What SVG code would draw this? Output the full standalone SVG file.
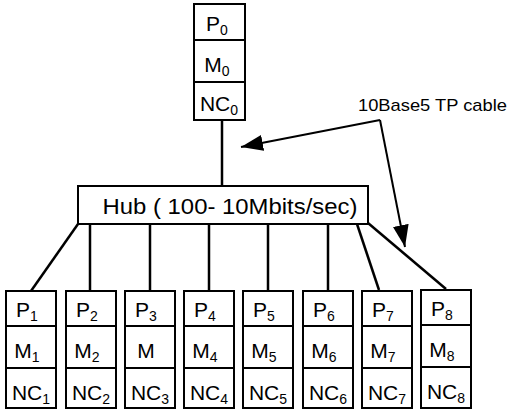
<svg xmlns="http://www.w3.org/2000/svg" width="509" height="410" viewBox="0 0 509 410">
<style>
.box{fill:#fff;stroke:#000;stroke-width:2}
.div{stroke:#000;stroke-width:2}
.t{font-family:"Liberation Sans",Arial,sans-serif;font-size:21px;fill:#000;text-anchor:middle}
.s{font-size:14px}
.con{stroke:#000;stroke-width:2.5;fill:none}
.arr{stroke:#000;stroke-width:2;fill:none}
</style>
<defs>
<marker id="ah" viewBox="0 0 22 16" refX="22" refY="8" markerWidth="22" markerHeight="16" markerUnits="userSpaceOnUse" orient="auto">
<path d="M0,0 L22,8 L0,16 z" fill="#000"/>
</marker>
</defs>
<g id="connectors">
<line class="con" x1="222" y1="120" x2="222" y2="186"/>
<line class="con" x1="78" y1="224" x2="31" y2="291"/>
<line class="con" x1="90" y1="224" x2="90" y2="291"/>
<line class="con" x1="150" y1="224" x2="150" y2="291"/>
<line class="con" x1="209" y1="224" x2="209" y2="291"/>
<line class="con" x1="268" y1="224" x2="268" y2="291"/>
<line class="con" x1="328" y1="224" x2="328" y2="291"/>
<line class="con" x1="357" y1="224" x2="379" y2="290"/>
<line class="con" x1="368" y1="223" x2="446" y2="289"/>
<line class="arr" x1="380" y1="120" x2="241" y2="147" marker-end="url(#ah)"/>
<line class="arr" x1="380" y1="120" x2="405" y2="247" marker-end="url(#ah)"/>
</g>
<g id="label">
<text x="358" y="111" font-family="Liberation Sans, Arial, sans-serif" font-size="17" textLength="149" lengthAdjust="spacingAndGlyphs">10Base5 TP cable</text>
</g>
<g id="hub">
<rect class="box" x="78" y="186" width="290" height="38"/>
<text x="230" y="214" font-family="Liberation Sans, Arial, sans-serif" font-size="22" text-anchor="middle" textLength="255" lengthAdjust="spacingAndGlyphs">Hub ( 100- 10Mbits/sec)</text>
</g>
<g id="node0">
<rect class="box" x="194" y="4" width="51" height="116"/>
<line class="div" x1="194" y1="40" x2="245" y2="40"/>
<line class="div" x1="194" y1="82" x2="245" y2="82"/>
<text class="t" x="217" y="31">P<tspan class="s" dy="4">0</tspan></text>
<text class="t" x="217" y="72">M<tspan class="s" dy="4">0</tspan></text>
<text class="t" x="219" y="111">NC<tspan class="s" dy="4">0</tspan></text>
</g>
<g id="node1">
<rect class="box" x="6" y="291" width="50" height="117"/>
<line class="div" x1="6" y1="326" x2="56" y2="326"/>
<line class="div" x1="6" y1="368" x2="56" y2="368"/>
<text class="t" x="27" y="317">P<tspan class="s" dy="4">1</tspan></text>
<text class="t" x="27" y="358">M<tspan class="s" dy="4">1</tspan></text>
<text class="t" x="31" y="400">NC<tspan class="s" dy="4">1</tspan></text>
</g>
<g id="node2">
<rect class="box" x="66" y="291" width="50" height="117"/>
<line class="div" x1="66" y1="326" x2="116" y2="326"/>
<line class="div" x1="66" y1="368" x2="116" y2="368"/>
<text class="t" x="87" y="317">P<tspan class="s" dy="4">2</tspan></text>
<text class="t" x="87" y="358">M<tspan class="s" dy="4">2</tspan></text>
<text class="t" x="91" y="400">NC<tspan class="s" dy="4">2</tspan></text>
</g>
<g id="node3">
<rect class="box" x="125" y="291" width="50" height="117"/>
<line class="div" x1="125" y1="326" x2="175" y2="326"/>
<line class="div" x1="125" y1="368" x2="175" y2="368"/>
<text class="t" x="146" y="317">P<tspan class="s" dy="4">3</tspan></text>
<text class="t" x="146" y="358">M</text>
<text class="t" x="150" y="400">NC<tspan class="s" dy="4">3</tspan></text>
</g>
<g id="node4">
<rect class="box" x="184" y="291" width="50" height="117"/>
<line class="div" x1="184" y1="326" x2="234" y2="326"/>
<line class="div" x1="184" y1="368" x2="234" y2="368"/>
<text class="t" x="205" y="317">P<tspan class="s" dy="4">4</tspan></text>
<text class="t" x="205" y="358">M<tspan class="s" dy="4">4</tspan></text>
<text class="t" x="209" y="400">NC<tspan class="s" dy="4">4</tspan></text>
</g>
<g id="node5">
<rect class="box" x="243" y="291" width="50" height="117"/>
<line class="div" x1="243" y1="326" x2="293" y2="326"/>
<line class="div" x1="243" y1="368" x2="293" y2="368"/>
<text class="t" x="264" y="317">P<tspan class="s" dy="4">5</tspan></text>
<text class="t" x="264" y="358">M<tspan class="s" dy="4">5</tspan></text>
<text class="t" x="268" y="400">NC<tspan class="s" dy="4">5</tspan></text>
</g>
<g id="node6">
<rect class="box" x="303" y="291" width="50" height="117"/>
<line class="div" x1="303" y1="326" x2="353" y2="326"/>
<line class="div" x1="303" y1="368" x2="353" y2="368"/>
<text class="t" x="324" y="317">P<tspan class="s" dy="4">6</tspan></text>
<text class="t" x="324" y="358">M<tspan class="s" dy="4">6</tspan></text>
<text class="t" x="328" y="400">NC<tspan class="s" dy="4">6</tspan></text>
</g>
<g id="node7">
<rect class="box" x="362" y="291" width="50" height="117"/>
<line class="div" x1="362" y1="326" x2="412" y2="326"/>
<line class="div" x1="362" y1="368" x2="412" y2="368"/>
<text class="t" x="383" y="317">P<tspan class="s" dy="4">7</tspan></text>
<text class="t" x="383" y="358">M<tspan class="s" dy="4">7</tspan></text>
<text class="t" x="387" y="400">NC<tspan class="s" dy="4">7</tspan></text>
</g>
<g id="node8">
<rect class="box" x="421" y="290" width="50" height="118"/>
<line class="div" x1="421" y1="325" x2="471" y2="325"/>
<line class="div" x1="421" y1="367" x2="471" y2="367"/>
<text class="t" x="442" y="316">P<tspan class="s" dy="4">8</tspan></text>
<text class="t" x="442" y="357">M<tspan class="s" dy="4">8</tspan></text>
<text class="t" x="446" y="399">NC<tspan class="s" dy="4">8</tspan></text>
</g>
</svg>
